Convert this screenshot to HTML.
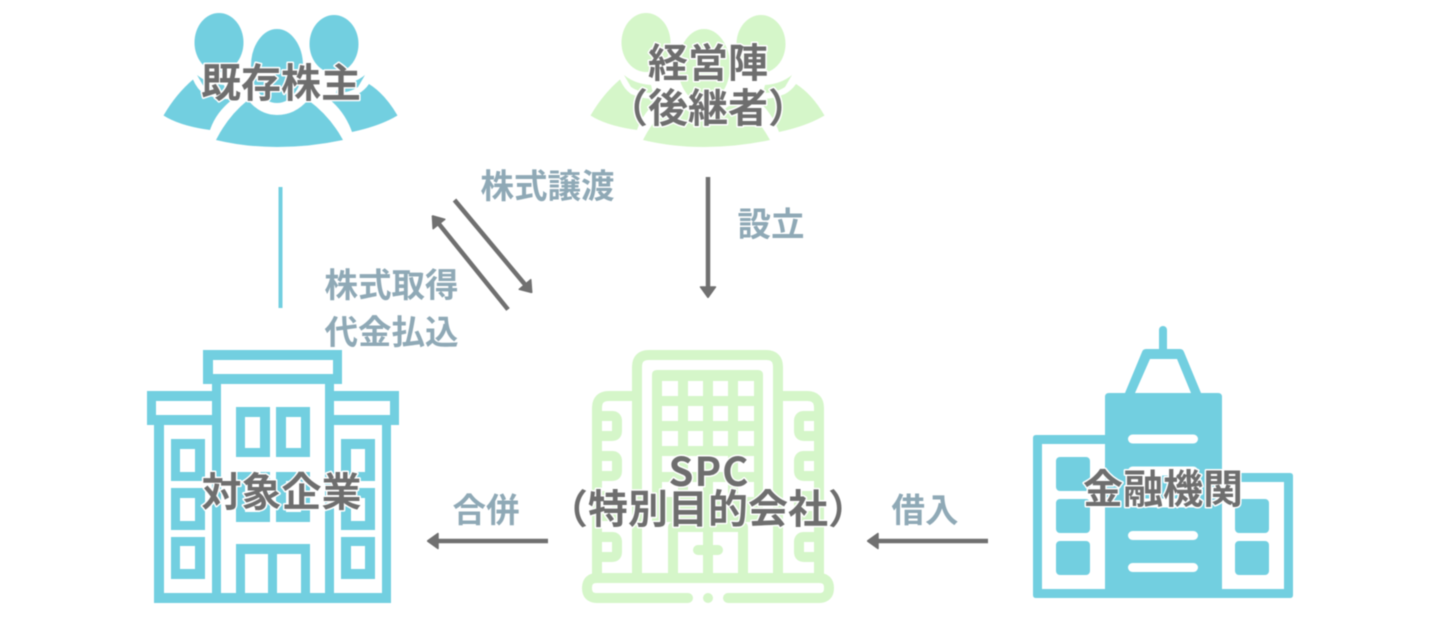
<!DOCTYPE html>
<html lang="ja">
<head>
<meta charset="utf-8">
<title>SPC diagram</title>
<style>
html,body{margin:0;padding:0;background:#fff;width:1440px;height:636px;overflow:hidden}
svg{display:block;filter:blur(.45px)}
text{font-family:"Noto Sans CJK JP","Liberation Sans",sans-serif;font-weight:700}
.t{font-size:40px;fill:#6e6e6e;stroke:#fff;stroke-width:3px;paint-order:stroke;text-anchor:middle;stroke-linejoin:round}
.l{font-size:33.500px;fill:#8fa9b6;font-weight:700}
</style>
</head>
<body>
<svg width="1440" height="636" viewBox="0 0 1440 636" xmlns="http://www.w3.org/2000/svg">
<defs>
<g id="people">
  <ellipse cx="219" cy="42.500" rx="24.500" ry="29.500"/>
  <ellipse cx="334" cy="44" rx="24.500" ry="29"/>
  <path d="M163.500 115.500Q176 94 193 79.500Q197 89 204 94Q218 100 233 99Q216 112 210 130Q180 126 163.500 115.500Z"/>
  <path d="M397.500 115.500Q385 94 369 84Q365 90 358 94Q344 100 329 99Q345 112 352 132Q380 126 397.500 115.500Z"/>
  <path d="M197 75Q208 84 224 85L226 93Q213 93 204 87Z"/>
  <path d="M365 75Q354 84 338 85L336 93Q349 93 358 87Z"/>
  <ellipse cx="277" cy="66" rx="28.500" ry="39.500" stroke="#fff" stroke-width="5"/>
  <path d="M216 140Q228 116 248 100Q260 115 277 115Q295 115 308 100Q330 116 343 140Q310 147 277 147Q245 147 216 140Z"/>
</g>
<marker id="a" viewBox="0 0 12 17" refX="1" refY="8.500" markerWidth="12" markerHeight="17" markerUnits="userSpaceOnUse" orient="auto">
  <path d="M1 1L11.500 8.500L1 16Z" fill="#707070" stroke="#707070" stroke-width="1.500" stroke-linejoin="round"/>
</marker>
</defs>

<use href="#people" fill="#72cfe0"/>
<use href="#people" fill="#d5f6c9" x="427"/>

<!-- Target company -->
<g fill="#72cfe0">
  <path fill-rule="evenodd" d="M203 350H342V384H334V391H399V425H391V603H154V425H147V391H212V384H203ZM213 360V374H333V360ZM156 401V415H212V401ZM334 401V415H390V401ZM164 425V593H212V425ZM221 384V593H236V544H310V593H325V384ZM334 425V593H382V425ZM245 554V593H268V554ZM277 554V593H301V554Z"/>
  <path fill-rule="evenodd" d="M236 407H270V457H236ZM245 417V448H260V417ZM276 407H310V457H276ZM286 417V448H301V417ZM236 472H270V522H236ZM245 481V512H260V481ZM276 472H310V522H276ZM286 481V512H301V481Z"/>
  <path fill-rule="evenodd" d="M171 439H205V481H171ZM180 449V472H195V449ZM171 488H205V530H171ZM180 498V521H195V498ZM171 537H205V579H171ZM180 546V569H195V546ZM341 439H375V481H341ZM351 449V472H365V449ZM341 488H375V530H341ZM351 498V521H365V498ZM341 537H375V579H341ZM351 546V569H365V546Z"/>
</g>

<!-- SPC -->
<g fill="none" stroke="#d5f6c9" stroke-width="10" stroke-linejoin="round" stroke-linecap="round">
  <path d="M637 573V367Q637 355 649 355H766Q778 355 778 367V573"/>
  <path d="M637 396H609Q597 396 597 408V578"/>
  <path d="M778 396H807Q819 396 819 408V578"/>
  <path d="M597 416H612Q617 416 617 421V431Q617 436 612 436H597M597 456H612Q617 456 617 461V471Q617 476 612 476H597M597 496H612Q617 496 617 501V511Q617 516 612 516H597M597 537H612Q617 537 617 542V552Q617 557 612 557H597"/>
  <path d="M819 416H804Q799 416 799 421V431Q799 436 804 436H819M819 456H804Q799 456 799 461V471Q799 476 804 476H819M819 496H804Q799 496 799 501V511Q799 516 804 516H819M819 537H804Q799 537 799 542V552Q799 557 804 557H819"/>
  <path d="M688 598H597Q587 598 587 588V588Q587 578 597 578H819Q829 578 829 588V588Q829 598 819 598H728"/>
  <path d="M673 573V527H743V573M708 527V573M698 550H718"/>
</g>
<circle cx="708" cy="598" r="5" fill="#d5f6c9"/>
<path fill="#d5f6c9" fill-rule="evenodd" d="M657 370H758Q763 370 763 375V522H652V375Q652 370 657 370ZM662 381V396H678V381ZM688 381V396H703V381ZM713 381V396H728V381ZM738 381V396H754V381ZM662 406V421H678V406ZM688 406V421H703V406ZM713 406V421H728V406ZM738 406V421H754V406ZM662 431V446H678V431ZM688 431V446H703V431ZM713 431V446H728V431ZM738 431V446H754V431ZM662 456V472H678V456ZM688 456V472H703V456ZM713 456V472H728V456ZM738 456V472H754V456ZM662 482V497H678V482ZM688 482V497H703V482ZM713 482V497H728V482ZM738 482V497H754V482Z"/>

<!-- Bank -->
<g fill="#72cfe0">
  <rect x="1159" y="326" width="8" height="28" rx="4"/>
  <path fill-rule="evenodd" d="M1146 349H1180Q1183 349 1184 352L1201 393H1125L1142 352Q1143 349 1146 349ZM1150 359L1135 393H1191L1177 359Z"/>
  <path d="M1109 393H1218Q1222 393 1222 397V598H1105V397Q1105 393 1109 393Z"/>
  <path fill-rule="evenodd" d="M1036 435H1106V598H1036Q1033 598 1033 595V438Q1033 435 1036 435ZM1042 444V589H1106V444Z"/>
  <path fill-rule="evenodd" d="M1221 473H1290Q1293 473 1293 476V595Q1293 598 1290 598H1221ZM1221 482V589H1284V482Z"/>
  <rect x="1105" y="430" width="117" height="168"/>
  <rect x="1056" y="457" width="34" height="34" rx="4"/>
  <rect x="1056" y="499" width="34" height="34" rx="4"/>
  <rect x="1056" y="541" width="34" height="34" rx="4"/>
  <rect x="1235" y="499" width="34" height="34" rx="4"/>
  <rect x="1235" y="541" width="34" height="34" rx="4"/>
</g>
<g fill="#fff">
  <rect x="1128" y="434.500" width="70" height="9" rx="4.500"/>
  <rect x="1128" y="466.500" width="70" height="9" rx="4.500"/>
  <rect x="1128" y="498.500" width="70" height="9" rx="4.500"/>
  <rect x="1128" y="531" width="70" height="9" rx="4.500"/>
  <rect x="1128" y="563" width="70" height="9" rx="4.500"/>
</g>

<!-- Connectors -->
<rect x="278.500" y="187" width="4" height="121" fill="#72cfe0"/>
<g stroke="#707070" stroke-width="4.500" fill="none">
  <line x1="454.500" y1="200" x2="525" y2="284.500" marker-end="url(#a)"/>
  <line x1="508" y1="309.500" x2="439" y2="224" marker-end="url(#a)"/>
  <line x1="708" y1="177" x2="708" y2="287" marker-end="url(#a)"/>
  <line x1="548" y1="541" x2="438" y2="541" marker-end="url(#a)"/>
  <line x1="988" y1="541" x2="878" y2="541" marker-end="url(#a)"/>
</g>

<!-- Node labels -->
<text class="t" x="281" y="97">既存株主</text>
<text class="t" x="708" y="77">経営陣</text>
<text class="t" x="708" y="122">（後継者）</text>
<text class="t" x="281.500" y="506">対象企業</text>
<text class="t" x="709" y="486" letter-spacing="1">SPC</text>
<text class="t" x="708" y="523">（特別目的会社）</text>
<text class="t" x="1163" y="503">金融機関</text>

<!-- Edge labels -->
<text class="l" x="480.500" y="198">株式譲渡</text>
<text class="l" x="737.500" y="236">設立</text>
<text class="l" x="324.500" y="297">株式取得</text>
<text class="l" x="324.500" y="344">代金払込</text>
<text class="l" x="452.500" y="522">合併</text>
<text class="l" x="891.500" y="522">借入</text>
</svg>
</body>
</html>
